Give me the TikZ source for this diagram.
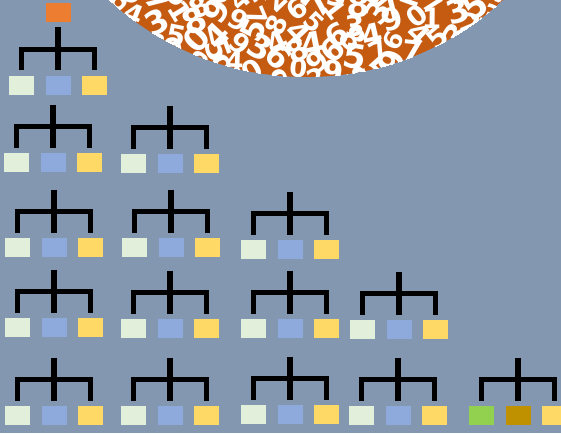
\documentclass[tikz,border=0pt]{standalone}
\usepackage{fontspec}
\usetikzlibrary{calc}
\newfontfamily\digitfont{DejaVu Sans}
\definecolor{bg}{HTML}{8497B0}
\definecolor{lgreen}{HTML}{E2EFDA}
\definecolor{lblue}{HTML}{8EA9DB}
\definecolor{lyellow}{HTML}{FFD966}
\definecolor{orangebox}{HTML}{ED7D31}
\definecolor{numorange}{HTML}{C55A11}
\definecolor{grn}{HTML}{92D050}
\definecolor{dyellow}{HTML}{BF9000}
\tikzset{
 sq/.style={rectangle, minimum width=25pt, minimum height=19pt, inner sep=0pt, outer sep=0pt, anchor=north west},
 fork/.style={line width=5.5pt, black, line join=miter, line cap=butt},
 digit/.style={text=white, inner sep=0pt}
}
\newcommand\mktree[6]{%
 \node[sq, fill=#4] (#1a) at (#2,#3) {};
 \node[sq, fill=#5] (#1b) at ({#2+36.5},#3) {};
 \node[sq, fill=#6] (#1c) at ({#2+73},#3) {};
 \coordinate (#1t) at ($(#1b.north)+(0,-48.5)$);
 \draw[fork] (#1t) -- ($(#1b.north)+(0,-5.5)$);
 \draw[fork] ($(#1a.north)+(0,-5.5)$) |- ($(#1c.north)+(0,-26.5)$) -- ($(#1c.north)+(0,-5.5)$);
}
\begin{document}
\begin{tikzpicture}[x=1pt,y=-1pt]
\useasboundingbox (0,0) rectangle (561,433);
\fill[bg] (0,0) rectangle (561,433);
% number circle
\begin{scope}
 \clip (306,-213.5) circle[radius=290.5];
 \fill[numorange] (306,-213.5) circle[radius=290.5];
 \pgfmathsetseed{12}
 \foreach \ci in {0,...,21}{
  \foreach \ri in {0,...,5}{
   \pgfmathrandominteger{\dg}{0}{9}
   \pgfmathsetmacro{\rot}{rand*70}
   \pgfmathsetmacro{\fs}{25+9*rnd}
   \pgfmathsetmacro{\px}{98+\ci*19.8+rand*4}
   \pgfmathsetmacro{\py}{-6+\ri*19+mod(\ci,2)*9+rand*4}
   \node[digit, rotate=\rot, font=\digitfont\bfseries\fontsize{\fs}{\fs}\selectfont] (d\ci-\ri) at (\px,\py) {\dg};
  }
 }
\end{scope}
% top box
\node[sq, fill=orangebox] (top) at (46,3) {};
% trees
\mktree{p}{9}{76}{lgreen}{lblue}{lyellow}
\mktree{ba}{4}{153}{lgreen}{lblue}{lyellow}
\mktree{bb}{121}{154}{lgreen}{lblue}{lyellow}
\mktree{ca}{5}{238}{lgreen}{lblue}{lyellow}
\mktree{cb}{122}{238}{lgreen}{lblue}{lyellow}
\mktree{cc}{241}{240}{lgreen}{lblue}{lyellow}
\mktree{da}{5}{318}{lgreen}{lblue}{lyellow}
\mktree{db}{121}{319}{lgreen}{lblue}{lyellow}
\mktree{dc}{241}{319}{lgreen}{lblue}{lyellow}
\mktree{dd}{350}{320}{lgreen}{lblue}{lyellow}
\mktree{ea}{5}{406}{lgreen}{lblue}{lyellow}
\mktree{eb}{121}{406}{lgreen}{lblue}{lyellow}
\mktree{ec}{241}{405}{lgreen}{lblue}{lyellow}
\mktree{ed}{349}{406}{lgreen}{lblue}{lyellow}
\mktree{ee}{469}{406}{grn}{dyellow}{lyellow}
\end{tikzpicture}
\end{document}
